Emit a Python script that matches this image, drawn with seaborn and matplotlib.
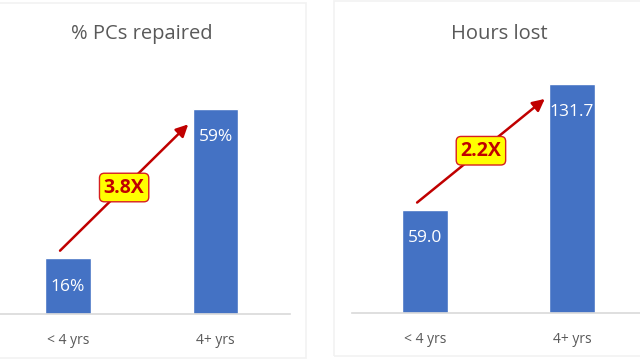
import matplotlib
matplotlib.use("Agg")
import matplotlib.pyplot as plt
import seaborn as sns
import pandas as pd
from matplotlib.patches import Rectangle

categories = ["< 4 yrs", "4+ yrs"]
pct_repaired = [16, 59]
pct_labels = ["16%", "59%"]
hours_lost = [59.0, 131.7]
hours_labels = ["59.0", "131.7"]
titles = ["% PCs repaired", "Hours lost"]
ratios = ["3.8X", "2.2X"]

sns.set_theme(style="white")
plt.rcParams["font.family"] = ["Open Sans", "DejaVu Sans"]

W, H = 640, 360
fig = plt.figure(figsize=(6.4, 3.6), dpi=100)
fig.patch.set_facecolor("white")

BLUE = "#4472C4"
GRAY = "#595959"
RED = "#C00000"

# panel frames (pixel coords from top-left)
def frame(x0, y0, x1, y1):
    fig.patches.append(Rectangle((x0 / W, 1 - y1 / H), (x1 - x0) / W, (y1 - y0) / H,
                                 transform=fig.transFigure, fill=False,
                                 edgecolor="#F2F2F2", linewidth=1.2, zorder=0))

frame(-10, 3, 306, 358)
frame(334, 1, 660, 356)

panels = [
    dict(left=0, base=314, width=290, height=260, xlim=(-0.461, 1.505), ymax=260 / 3.47,
         vals=pct_repaired, labels=pct_labels, title=titles[0], ratio=ratios[0], title_x=142),
    dict(left=352, base=313, width=288, height=260, xlim=(-0.497, 1.463), ymax=260 / 1.74,
         vals=hours_lost, labels=hours_labels, title=titles[1], ratio=ratios[1], title_x=499),
]

for p in panels:
    ax = fig.add_axes([p["left"] / W, (H - p["base"]) / H, p["width"] / W, p["height"] / H])
    df = pd.DataFrame({"cat": categories, "val": p["vals"]})
    sns.barplot(data=df, x="cat", y="val", color=BLUE, saturation=1, width=0.31, ax=ax)
    ax.set_xlim(*p["xlim"])
    ax.set_ylim(0, p["ymax"])
    ax.set_facecolor("none")
    for s in ["top", "right", "left"]:
        ax.spines[s].set_visible(False)
    ax.spines["bottom"].set_color("#D9D9D9")
    ax.spines["bottom"].set_linewidth(1.2)
    ax.set_yticks([])
    ax.set_xlabel("")
    ax.set_ylabel("")
    ax.tick_params(axis="x", length=0, pad=14, labelsize=10, labelcolor=GRAY)
    ymax = p["ymax"]
    for i, (v, lab) in enumerate(zip(p["vals"], p["labels"])):
        ax.text(i, v - 0.108 * ymax, lab, ha="center", va="center", color="white", fontsize=12.5)
    v0, v1 = p["vals"]
    x0, y0 = -0.054, v0 + 0.03 * ymax
    x1, y1 = 0.815, v1 - 0.058 * ymax
    ax.annotate("", xy=(x1, y1), xytext=(x0, y0),
                arrowprops=dict(arrowstyle="-|>,head_length=0.6,head_width=0.3",
                                color=RED, lw=1.8, shrinkA=0, shrinkB=0))
    ax.text((x0 + x1) / 2, (y0 + y1) / 2, p["ratio"], ha="center", va="center",
            fontsize=14, fontweight="bold", color=RED,
            bbox=dict(boxstyle="round,pad=0.22,rounding_size=0.25", facecolor="#FFFF00",
                      edgecolor="#D62020", linewidth=1.0))
    fig.text(p["title_x"] / W, 1 - 34 / H, p["title"], ha="center", va="center",
             fontsize=14.5, color=GRAY)

fig.savefig("out.png", dpi=100, facecolor="white")
